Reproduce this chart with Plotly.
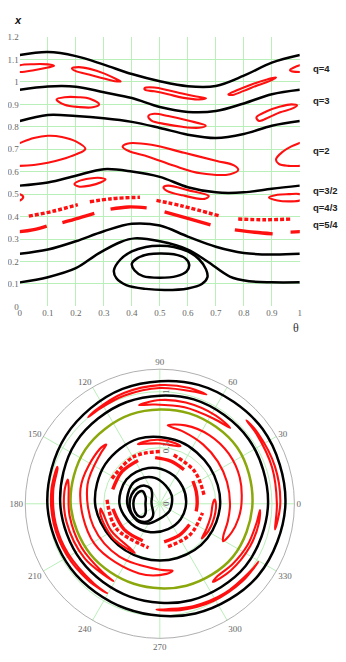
import plotly.graph_objects as go

# values: theta (0..1) and x for every curve

# black separatrix-like curves, theta from 0 to 1
sep1_t = [0, 0.1, 0.2, 0.3, 0.4, 0.5, 0.6, 0.7, 0.8, 0.9, 1.0]
sep1_x = [1.12, 1.133, 1.115, 1.077, 1.035, 1.003, 0.981, 0.982, 1.028, 1.086, 1.12]
sep2_t = [0, 0.1, 0.2, 0.3, 0.4, 0.5, 0.6, 0.7, 0.8, 0.9, 1.0]
sep2_x = [0.965, 0.98, 0.979, 0.954, 0.928, 0.888, 0.866, 0.87, 0.904, 0.945, 0.965]
sep3_t = [0, 0.1, 0.2, 0.3, 0.4, 0.5, 0.6, 0.7, 0.8, 0.9, 1.0]
sep3_x = [0.826, 0.853, 0.848, 0.838, 0.822, 0.795, 0.765, 0.75, 0.768, 0.805, 0.826]
sep4_t = [0, 0.1, 0.2, 0.3, 0.4, 0.5, 0.6, 0.7, 0.8, 0.9, 1.0]
sep4_x = [0.538, 0.552, 0.582, 0.611, 0.601, 0.577, 0.531, 0.508, 0.508, 0.524, 0.538]
sep5_t = [0, 0.1, 0.2, 0.3, 0.4, 0.5, 0.6, 0.7, 0.8, 0.9, 1.0]
sep5_x = [0.234, 0.253, 0.29, 0.335, 0.368, 0.36, 0.311, 0.266, 0.238, 0.231, 0.234]
sep6_t = [0, 0.1, 0.2, 0.28, 0.36, 0.41, 0.5, 0.6, 0.67, 0.75, 0.82, 0.9, 1.0]
sep6_x = [0.107, 0.13, 0.17, 0.235, 0.287, 0.303, 0.29, 0.253, 0.2, 0.133, 0.112, 0.107, 0.107]

# closed black loops around theta = 0.5
loop1_t = [0.336, 0.36, 0.40, 0.45, 0.50, 0.55, 0.60, 0.64, 0.665, 0.67, 0.65, 0.60, 0.52, 0.45, 0.38, 0.345, 0.336]
loop1_x = [0.16, 0.21, 0.245, 0.265, 0.27, 0.265, 0.245, 0.21, 0.165, 0.13, 0.10, 0.08, 0.073, 0.078, 0.095, 0.125, 0.16]
loop2_t = [0.40, 0.42, 0.46, 0.50, 0.55, 0.59, 0.605, 0.595, 0.56, 0.50, 0.44, 0.41, 0.40]
loop2_x = [0.19, 0.215, 0.232, 0.236, 0.232, 0.215, 0.185, 0.155, 0.135, 0.128, 0.135, 0.16, 0.19]

# red islands, q = 4
isl4a_t = [-0.035, 0.0, 0.05, 0.10, 0.122, 0.10, 0.05, 0.0, -0.035]
isl4a_x = [1.052, 1.074, 1.079, 1.078, 1.072, 1.064, 1.052, 1.044, 1.052]
isl4b_t = [0.186, 0.21, 0.25, 0.30, 0.345, 0.36, 0.34, 0.30, 0.25, 0.20, 0.186]
isl4b_x = [1.060, 1.066, 1.058, 1.038, 1.012, 1.002, 1.003, 1.015, 1.032, 1.048, 1.060]
isl4c_t = [0.445, 0.48, 0.53, 0.58, 0.63, 0.665, 0.64, 0.58, 0.53, 0.48, 0.447, 0.445]
isl4c_x = [0.972, 0.975, 0.963, 0.948, 0.935, 0.927, 0.922, 0.93, 0.945, 0.958, 0.965, 0.972]
isl4d_t = [0.745, 0.78, 0.83, 0.88, 0.915, 0.90, 0.85, 0.80, 0.76, 0.745]
isl4d_x = [0.945, 0.965, 0.99, 1.01, 1.02, 1.008, 0.985, 0.96, 0.942, 0.945]

# q = 3
isl3a_t = [0.131, 0.16, 0.21, 0.25, 0.283, 0.26, 0.21, 0.16, 0.131]
isl3a_x = [0.922, 0.932, 0.932, 0.925, 0.9, 0.887, 0.888, 0.898, 0.922]
isl3b_t = [0.459, 0.48, 0.53, 0.60, 0.664, 0.64, 0.58, 0.52, 0.47, 0.459]
isl3b_x = [0.848, 0.858, 0.848, 0.828, 0.805, 0.796, 0.80, 0.812, 0.828, 0.848]
isl3c_t = [0.845, 0.88, 0.93, 0.97, 0.99, 0.97, 0.93, 0.89, 0.855, 0.845]
isl3c_x = [0.842, 0.868, 0.89, 0.9, 0.895, 0.88, 0.865, 0.843, 0.826, 0.842]

# q = 2
isl2a_t = [-0.085, -0.06, -0.03, 0.0, 0.05, 0.10, 0.15, 0.20, 0.234, 0.20, 0.15, 0.10, 0.05, 0.0, -0.04, -0.075, -0.085]
isl2a_x = [0.655, 0.69, 0.713, 0.728, 0.75, 0.76, 0.755, 0.735, 0.702, 0.677, 0.655, 0.64, 0.63, 0.626, 0.626, 0.635, 0.655]
isl2b_t = [0.367, 0.383, 0.47, 0.587, 0.704, 0.765, 0.78, 0.751, 0.646, 0.552, 0.459, 0.389, 0.367]
isl2b_x = [0.711, 0.725, 0.72, 0.684, 0.648, 0.628, 0.608, 0.589, 0.593, 0.626, 0.667, 0.692, 0.711]

# q = 3/2
isl32a_t = [0.195, 0.21, 0.25, 0.29, 0.306, 0.29, 0.25, 0.21, 0.195]
isl32a_x = [0.545, 0.558, 0.57, 0.572, 0.566, 0.553, 0.538, 0.534, 0.545]
isl32b_t = [0.513, 0.53, 0.60, 0.675, 0.66, 0.58, 0.525, 0.513]
isl32b_x = [0.53, 0.538, 0.518, 0.492, 0.479, 0.495, 0.515, 0.53]
isl32c_t = [0.89, 0.92, 0.96, 1.0, 1.012, 1.0, 0.96, 0.92, 0.89]
isl32c_x = [0.485, 0.497, 0.5, 0.5, 0.488, 0.472, 0.468, 0.472, 0.485]

# q = 4/3 chains (dotted, centre lines)
ch43a_t = [0.032, 0.119, 0.207]
ch43a_x = [0.402, 0.424, 0.453]
ch43b_t = [0.25, 0.33, 0.429]
ch43b_x = [0.466, 0.48, 0.486]
ch43c_t = [0.488, 0.581, 0.71]
ch43c_x = [0.472, 0.447, 0.404]
ch43d_t = [0.78, 0.874, 0.967]
ch43d_x = [0.389, 0.386, 0.389]

# q = 5/4 thin islands (centre lines)
ch54a_t = [-0.033, 0.0, 0.05, 0.096]
ch54a_x = [0.331, 0.333, 0.342, 0.358]
ch54b_t = [0.152, 0.21, 0.266]
ch54b_x = [0.373, 0.393, 0.414]
ch54c_t = [0.324, 0.388, 0.453]
ch54c_x = [0.433, 0.443, 0.439]
ch54d_t = [0.517, 0.6, 0.681]
ch54d_x = [0.421, 0.392, 0.363]
ch54e_t = [0.768, 0.839, 0.903]
ch54e_x = [0.341, 0.33, 0.323]

q_labels = ["q=4", "q=3", "q=2", "q=3/2", "q=4/3", "q=5/4"]
q_label_y = [1.06, 0.915, 0.695, 0.515, 0.44, 0.365]

angle_ticks = [0, 30, 60, 90, 120, 150, 180, 210, 240, 270, 300, 330]
angle_labels = ["0", "30", "60", "90", "120", "150", "180", "210", "240", "270", "300", "330"]
radial_ticks = [0, 0.5, 1]
radial_labels = ["0", "0.5", "1"]

RED = "#ff1010"
BLACK = "#000000"
GREEN = "#8aa80c"
GRID = "#b9efb9"
SERIF = "Liberation Serif"

# the page body has an 8px margin on every side, so the figure is made
# smaller and every pixel position below is given in page pixels
PAD = 8
W, H = 346 - PAD, 662 - 2 * PAD


def px(v):
    return (v - PAD) / W


def py(v):
    return 1 - (v - PAD) / H


fig = go.Figure()


def add_curve(t, x, color, width, dash=None, polar_color=None):
    shifts = [0]
    if min(t) < 0:
        shifts.append(1)
    if max(t) > 1:
        shifts.append(-1)
    for s in shifts:
        fig.add_trace(go.Scatter(
            x=[v + s for v in t], y=x, mode="lines",
            line=dict(color=color, width=width, dash=dash, shape="spline"),
            hoverinfo="skip", showlegend=False))
    fig.add_trace(go.Scatterpolar(
        r=x, theta=[v * 360 for v in t], mode="lines",
        line=dict(color=polar_color or color, width=width, dash=dash, shape="spline"),
        hoverinfo="skip", showlegend=False))


for t, x in [(sep1_t, sep1_x), (sep2_t, sep2_x), (sep4_t, sep4_x),
             (sep5_t, sep5_x), (sep6_t, sep6_x), (loop1_t, loop1_x), (loop2_t, loop2_x)]:
    add_curve(t, x, BLACK, 2.5)
# third curve is drawn green on the polar view
add_curve(sep3_t, sep3_x, BLACK, 2.5, polar_color=GREEN)

for t, x in [(isl4a_t, isl4a_x), (isl4b_t, isl4b_x), (isl4c_t, isl4c_x), (isl4d_t, isl4d_x),
             (isl3a_t, isl3a_x), (isl3b_t, isl3b_x), (isl3c_t, isl3c_x),
             (isl2a_t, isl2a_x), (isl2b_t, isl2b_x),
             (isl32a_t, isl32a_x), (isl32b_t, isl32b_x), (isl32c_t, isl32c_x)]:
    add_curve(t, x, RED, 2.1)

for t, x in [(ch43a_t, ch43a_x), (ch43b_t, ch43b_x), (ch43c_t, ch43c_x), (ch43d_t, ch43d_x)]:
    add_curve(t, x, RED, 3.4, dash="4px,2px")

for t, x in [(ch54a_t, ch54a_x), (ch54b_t, ch54b_x), (ch54c_t, ch54c_x),
             (ch54d_t, ch54d_x), (ch54e_t, ch54e_x)]:
    add_curve(t, x, RED, 3.4)

tickfont = dict(family=SERIF, size=9, color="#666666")

annotations = [
    dict(text="<b><i>x</i></b>", x=0, y=py(15), xref="paper", yref="paper",
         xanchor="left", yanchor="middle", showarrow=False,
         font=dict(family="Liberation Sans", size=11, color="#111111")),
    dict(text="θ", x=px(297), y=py(328), xref="paper", yref="paper",
         xanchor="center", yanchor="middle", showarrow=False,
         font=dict(family=SERIF, size=12, color="#333333")),
]
for lab, yv in zip(q_labels, q_label_y):
    annotations.append(dict(text="<b>" + lab + "</b>", x=px(312), y=yv, xref="paper", yref="y",
                            xanchor="left", yanchor="middle", showarrow=False,
                            font=dict(family="Liberation Sans", size=9.5, color="#222222")))

fig.update_layout(
    width=W, height=H,
    margin=dict(l=0, r=0, t=0, b=0),
    paper_bgcolor="white", plot_bgcolor="white",
    showlegend=False,
    xaxis=dict(domain=[px(16), px(301)], range=[0, 1], dtick=0.1, tick0=0,
               showgrid=True, gridcolor=GRID, gridwidth=1, zeroline=False,
               showline=False, ticks="", tickfont=tickfont),
    yaxis=dict(domain=[py(306), py(32.4)], range=[0, 1.2], dtick=0.1, tick0=0,
               showgrid=True, gridcolor=GRID, gridwidth=1, zeroline=False,
               showline=False, ticks="", tickfont=tickfont),
    polar=dict(
        domain=dict(x=[px(158.5 - 137), px(158.5 + 137)], y=[py(506.5 + 137), py(506.5 - 137)]),
        bgcolor="white",
        radialaxis=dict(range=[0, 1.2], tickvals=radial_ticks, ticktext=radial_labels,
                        angle=90, tickangle=0, showline=False, ticks="",
                        gridcolor=GRID, tickfont=tickfont),
        angularaxis=dict(tickvals=angle_ticks, ticktext=angle_labels,
                         direction="counterclockwise", rotation=0,
                         gridcolor=GRID, linecolor="#9a9a9a", linewidth=0.8,
                         ticks="", tickfont=tickfont),
    ),
    annotations=annotations,
)

fig.write_html("out.html")
